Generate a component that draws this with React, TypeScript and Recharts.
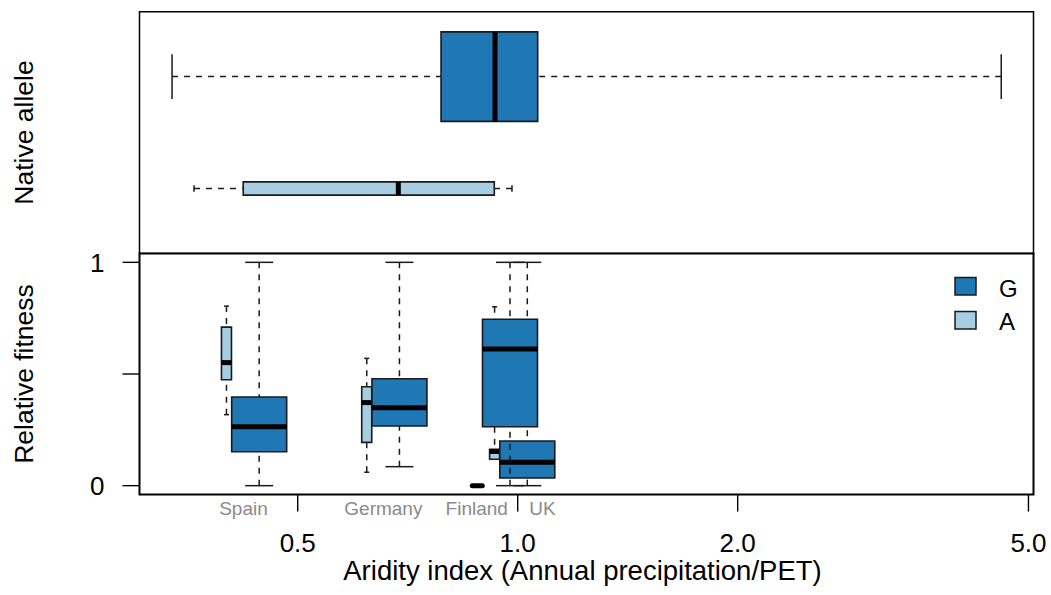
import React from 'react';
import { ComposedChart, XAxis, YAxis, ReferenceArea, ReferenceLine, Legend } from 'recharts';

// ---------- axis / tick data ----------
const X_DOMAIN: [number, number] = [0.3037, 5.08];
const X_TICKS = [0.5, 1, 2, 5];
const X_TICK_LABELS = ['0.5', '1.0', '2.0', '5.0'];

// ---------- top panel: aridity index by native allele ----------
const NATIVE_ALLELES = ['G', 'A'];
const NATIVE_ROW = [2, 1];
const NATIVE_MIN = [0.3365, 0.3606];
const NATIVE_Q1 = [0.7854, 0.4211];
const NATIVE_MEDIAN = [0.931, 0.6865];
const NATIVE_Q3 = [1.065, 0.9289];
const NATIVE_MAX = [4.589, 0.9822];
const NATIVE_BOX_HEIGHT = [0.8, 0.119];

// ---------- bottom panel: relative fitness per site ----------
const SITES = ['Spain', 'Germany', 'Finland', 'UK'];
const SITE_ARIDITY = [0.4428, 0.6889, 0.976, 1.0307];
const SITE_LABEL_AT = [0.4214, 0.6549, 0.8789, 1.0813];
const SITE_DRAW_ORDER_G = [0, 1, 3, 2];

const G_MIN = [0, 0.085, 0, 0];
const G_Q1 = [0.152, 0.267, 0.264, 0.034];
const G_MEDIAN = [0.264, 0.349, 0.612, 0.105];
const G_Q3 = [0.397, 0.479, 0.745, 0.2];
const G_MAX = [1, 1, 1, 1];

const A_MIN = [0.318, 0.06, 0, 0.118];
const A_Q1 = [0.474, 0.194, 0, 0.118];
const A_MEDIAN = [0.551, 0.372, 0, 0.153];
const A_Q3 = [0.71, 0.443, 0, 0.163];
const A_MAX = [0.804, 0.57, 0, 0.801];

const LEGEND_ITEMS = ['G', 'A'];

// ---------- styles ----------
const FILL: Record<string, string> = { G: '#1F78B4', A: '#A6CEE3' };
const EDGE = '#1a1a1a';
const DASH = '6 6';
const FONT = '"Liberation Sans", Arial, Helvetica, sans-serif';
// box geometry on the log axis (multiplicative factors)
const BOX_F: Record<string, number> = { G: 1.0905, A: 1.0159 };
const CAP_F: Record<string, number> = { G: 1.0451, A: 1.0079 };
const A_SHIFT = 0.9021;

type Stats = { min: number; q1: number; med: number; q3: number; max: number };

let zCounter = 10;
const nz = () => zCounter++;

function verticalBox(id: string, c: number, s: Stats, allele: string) {
  const lo = c / BOX_F[allele];
  const hi = c * BOX_F[allele];
  const clo = c / CAP_F[allele];
  const chi = c * CAP_F[allele];
  const degenerate = s.q1 === s.q3;
  return [
    <ReferenceLine key={id + 'wl'} zIndex={nz()} ifOverflow="visible" segment={[{ x: c, y: s.min }, { x: c, y: s.q1 }]} stroke={EDGE} strokeWidth={1.5} strokeDasharray={DASH} />,
    <ReferenceLine key={id + 'wu'} zIndex={nz()} ifOverflow="visible" segment={[{ x: c, y: s.max }, { x: c, y: s.q3 }]} stroke={EDGE} strokeWidth={1.5} strokeDasharray={DASH} />,
    <ReferenceLine key={id + 'cl'} zIndex={nz()} ifOverflow="visible" segment={[{ x: clo, y: s.min }, { x: chi, y: s.min }]} stroke={EDGE} strokeWidth={1.5} />,
    <ReferenceLine key={id + 'cu'} zIndex={nz()} ifOverflow="visible" segment={[{ x: clo, y: s.max }, { x: chi, y: s.max }]} stroke={EDGE} strokeWidth={1.5} />,
    <ReferenceArea key={id + 'b'} zIndex={nz()} ifOverflow="visible" x1={lo} x2={hi} y1={s.q1} y2={s.q3} fill={FILL[allele]} fillOpacity={1} stroke={EDGE} strokeWidth={1.6} />,
    <ReferenceLine key={id + 'm'} zIndex={nz()} ifOverflow="visible" segment={[{ x: lo, y: s.med }, { x: hi, y: s.med }]} stroke="#000" strokeWidth={5} strokeLinecap={degenerate ? 'round' : 'butt'} />,
  ];
}

function horizontalBox(id: string, c: number, h: number, s: Stats, allele: string) {
  const half = h / 2;
  const cap = h / 4;
  return [
    <ReferenceLine key={id + 'wl'} zIndex={nz()} ifOverflow="visible" segment={[{ x: s.min, y: c }, { x: s.q1, y: c }]} stroke={EDGE} strokeWidth={1.5} strokeDasharray={DASH} />,
    <ReferenceLine key={id + 'wu'} zIndex={nz()} ifOverflow="visible" segment={[{ x: s.max, y: c }, { x: s.q3, y: c }]} stroke={EDGE} strokeWidth={1.5} strokeDasharray={DASH} />,
    <ReferenceLine key={id + 'cl'} zIndex={nz()} ifOverflow="visible" segment={[{ x: s.min, y: c - cap }, { x: s.min, y: c + cap }]} stroke={EDGE} strokeWidth={1.5} />,
    <ReferenceLine key={id + 'cu'} zIndex={nz()} ifOverflow="visible" segment={[{ x: s.max, y: c - cap }, { x: s.max, y: c + cap }]} stroke={EDGE} strokeWidth={1.5} />,
    <ReferenceArea key={id + 'b'} zIndex={nz()} ifOverflow="visible" x1={s.q1} x2={s.q3} y1={c - half} y2={c + half} fill={FILL[allele]} fillOpacity={1} stroke={EDGE} strokeWidth={1.6} />,
    <ReferenceLine key={id + 'm'} zIndex={nz()} ifOverflow="visible" segment={[{ x: s.med, y: c - half }, { x: s.med, y: c + half }]} stroke="#000" strokeWidth={5} />,
  ];
}

const topElements = NATIVE_ALLELES.flatMap((a, i) =>
  horizontalBox('n' + a, NATIVE_ROW[i], NATIVE_BOX_HEIGHT[i], {
    min: NATIVE_MIN[i], q1: NATIVE_Q1[i], med: NATIVE_MEDIAN[i], q3: NATIVE_Q3[i], max: NATIVE_MAX[i],
  }, a)
);

const bottomElementsA = SITES.flatMap((site, i) =>
  verticalBox('A' + site, SITE_ARIDITY[i] * A_SHIFT, {
    min: A_MIN[i], q1: A_Q1[i], med: A_MEDIAN[i], q3: A_Q3[i], max: A_MAX[i],
  }, 'A')
);
const bottomElementsG = SITE_DRAW_ORDER_G.flatMap((i) =>
  verticalBox('G' + SITES[i], SITE_ARIDITY[i], {
    min: G_MIN[i], q1: G_Q1[i], med: G_MEDIAN[i], q3: G_Q3[i], max: G_MAX[i],
  }, 'G')
);

const bottomTicks = [...X_TICKS, ...SITE_LABEL_AT].sort((a, b) => a - b);

const XTick = (props: any) => {
  const { x, y, payload } = props;
  const v = payload.value;
  const ti = X_TICKS.indexOf(v);
  if (ti >= 0) {
    return (
      <g>
        <line x1={x} x2={x} y1={y} y2={y + 17} stroke="#000" strokeWidth={1.4} />
        <text x={x} y={y + 57} textAnchor="middle" fontSize={26} fill="#000" fontFamily={FONT}>
          {X_TICK_LABELS[ti]}
        </text>
      </g>
    );
  }
  const si = SITE_LABEL_AT.indexOf(v);
  return (
    <text x={x} y={y + 20} textAnchor="middle" fontSize={19} fill="#8a8a8a" fontFamily={FONT}>
      {SITES[si]}
    </text>
  );
};

const yTitle = (text: string, fallbackY: number) => (props: any) => {
  const vb = props && props.viewBox;
  const cy = vb && typeof vb.y === 'number' ? vb.y + vb.height / 2 : fallbackY;
  const x = 33;
  return (
    <text x={x} y={cy} transform={`rotate(-90 ${x} ${cy})`} textAnchor="middle" fontSize={26.5} fill="#000" fontFamily={FONT}>
      {text}
    </text>
  );
};

const xTitle = (props: any) => {
  const vb = props && props.viewBox;
  const cx = vb ? vb.x + vb.width / 2 - 4 : 582;
  const y = vb ? vb.y + 85.4 : 580;
  return (
    <text x={cx} y={y} textAnchor="middle" fontSize={27.5} fill="#000" fontFamily={FONT}>
      Aridity index (Annual precipitation/PET)
    </text>
  );
};

const renderLegend = () => (
  <svg width={80} height={62} style={{ display: 'block', overflow: 'visible' }}>
    {LEGEND_ITEMS.map((a, i) => (
      <g key={a}>
        <rect x={2} y={2.5 + i * 34} width={21} height={17.5} fill={FILL[a]} stroke={EDGE} strokeWidth={1.5} />
        <text x={46} y={21.5 + i * 33.5} fontSize={24} fill="#000" fontFamily={FONT}>
          {a}
        </text>
      </g>
    ))}
  </svg>
);

export default function App() {
  return (
    <div style={{ position: 'absolute', left: 0, top: 0, width: 1051, height: 595, background: '#fff', fontFamily: FONT }}>
      <div style={{ position: 'absolute', left: 0, top: 0 }}>
        <ComposedChart width={1051} height={254} margin={{ top: 11.7, right: 17.5, bottom: 0.6, left: 0 }} data={[]}>
          <XAxis type="number" dataKey="x" scale="log" domain={X_DOMAIN} allowDataOverflow hide />
          <YAxis
            type="number"
            dataKey="y"
            domain={[0.42, 2.58]}
            allowDataOverflow
            width={139.5}
            tick={false}
            tickLine={false}
            axisLine={false}
            label={yTitle('Native allele', 132.5)}
          />
          {topElements}
          <ReferenceArea zIndex={5000} ifOverflow="visible" x1={X_DOMAIN[0]} x2={X_DOMAIN[1]} y1={0.42} y2={2.58} fill="none" fillOpacity={0} stroke="#000" strokeWidth={1.5} />
        </ComposedChart>
      </div>
      <div style={{ position: 'absolute', left: 0, top: 0 }}>
        <ComposedChart width={1051} height={595} margin={{ top: 253.4, right: 17.5, bottom: 0, left: 0 }} data={[]}>
          <XAxis
            type="number"
            dataKey="x"
            scale="log"
            domain={X_DOMAIN}
            allowDataOverflow
            ticks={bottomTicks}
            interval={0}
            tickSize={0}
            tickMargin={0}
            tickLine={false}
            axisLine={false}
            tick={(p: any) => <XTick {...p} />}
            height={100.4}
            label={xTitle}
          />
          <YAxis
            type="number"
            dataKey="y"
            domain={[-0.04, 1.04]}
            allowDataOverflow
            ticks={[0, 0.5, 1]}
            interval={0}
            tickFormatter={(v: number) => (v === 0.5 ? '' : String(v))}
            width={139.5}
            tickSize={17}
            tickMargin={18}
            tickLine={{ stroke: '#000', strokeWidth: 1.4 }}
            axisLine={false}
            tick={{ fontSize: 26, fill: '#000', fontFamily: FONT }}
            label={yTitle('Relative fitness', 374)}
          />
          {bottomElementsA}
          {bottomElementsG}
          <ReferenceArea zIndex={5000} ifOverflow="visible" x1={X_DOMAIN[0]} x2={X_DOMAIN[1]} y1={-0.04} y2={1.04} fill="none" fillOpacity={0} stroke="#000" strokeWidth={2} />
          <Legend
            layout="vertical"
            verticalAlign="middle"
            align="center"
            wrapperStyle={{ position: 'absolute', left: 953, top: 275, width: 80, height: 62 }}
            content={renderLegend}
          />
        </ComposedChart>
      </div>
    </div>
  );
}
